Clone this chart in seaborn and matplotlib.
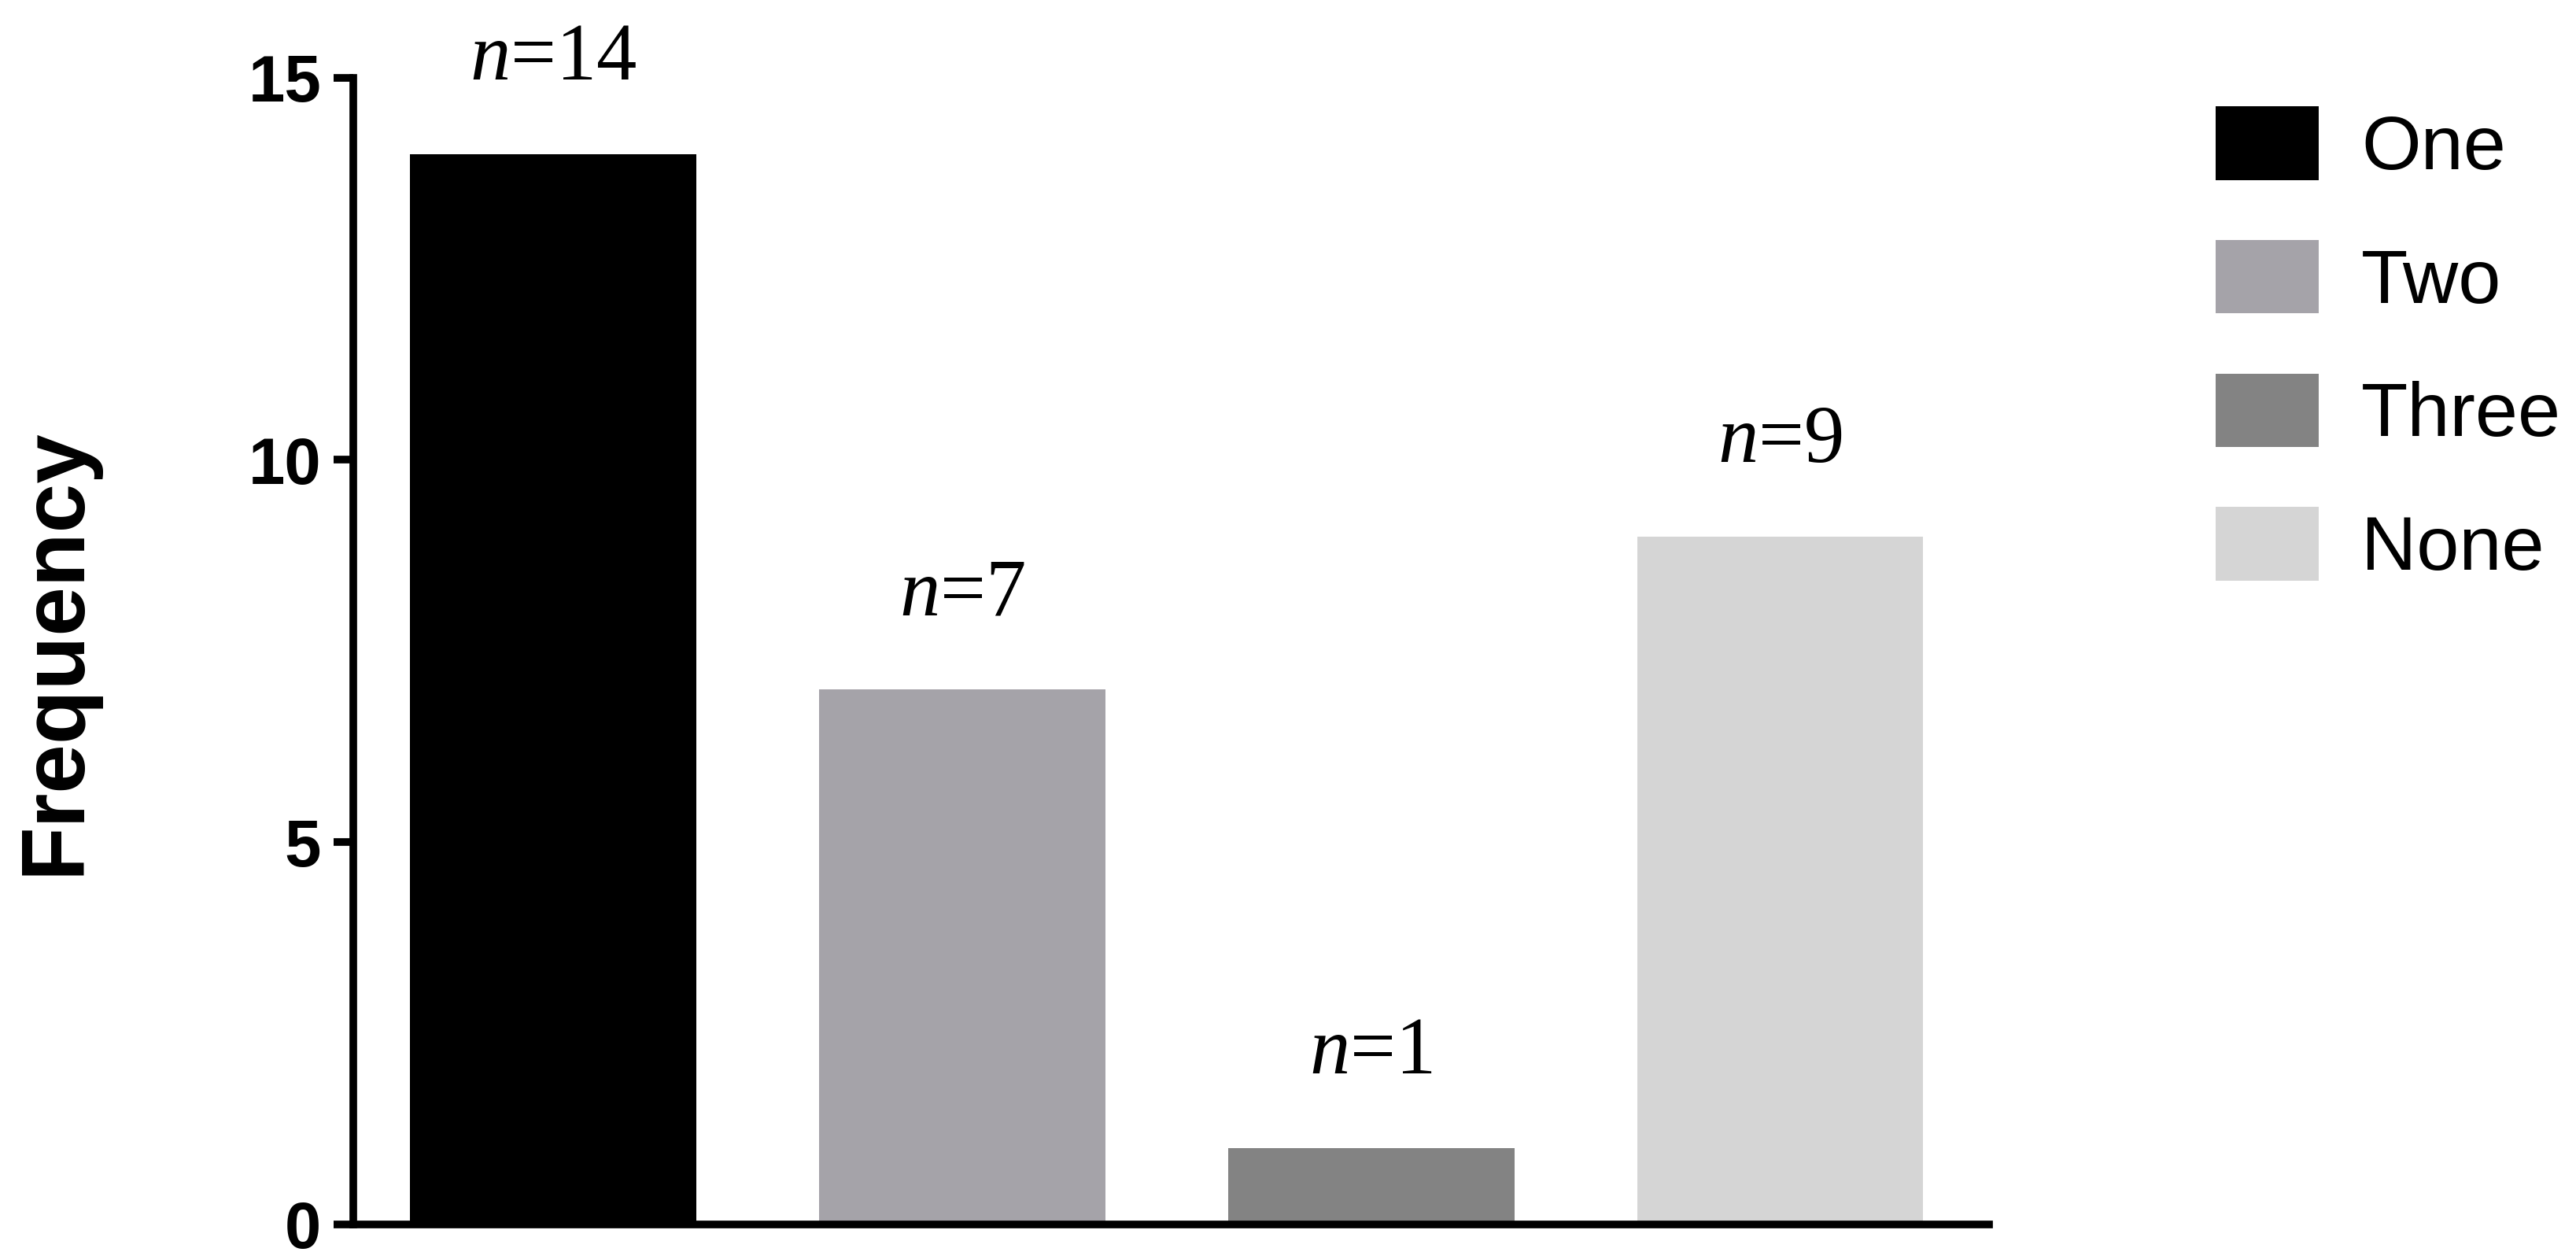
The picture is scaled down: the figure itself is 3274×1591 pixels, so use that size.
import matplotlib
matplotlib.use("Agg")
import matplotlib.pyplot as plt
import seaborn as sns
import pandas as pd

# chart data
categories = ["One", "Two", "Three", "None"]
counts = [14, 7, 1, 9]
bar_colors = ["#000000", "#a5a3a9", "#838383", "#d5d5d5"]
y_ticks = [0, 5, 10, 15]

sns.set_style("ticks")
plt.rcParams["font.family"] = ["Liberation Sans", "DejaVu Sans"]
plt.rcParams["text.color"] = "black"
plt.rcParams["axes.labelcolor"] = "black"
plt.rcParams["axes.edgecolor"] = "black"
plt.rcParams["ytick.color"] = "black"
plt.rcParams["mathtext.fontset"] = "custom"
plt.rcParams["mathtext.it"] = "Liberation Serif:italic"
plt.rcParams["mathtext.rm"] = "Liberation Serif"

df = pd.DataFrame({"group": categories, "count": counts})

fig = plt.figure(figsize=(32.74, 15.91), dpi=100)
ax = fig.add_axes([0.137, 0.022, 0.635, 0.916])

sns.barplot(data=df, x="group", y="count", hue="group", palette=bar_colors,
            width=0.7, saturation=1, linewidth=0, legend=False, ax=ax)

ax.set_xlim(-0.49, 3.51)
ax.set_ylim(0, 15)
ax.set_yticks(y_ticks)
ax.set_xticks([])
ax.set_xlabel("")

# tick and spine styling
for side in ["top", "right"]:
    ax.spines[side].set_visible(False)
for side in ["left", "bottom"]:
    ax.spines[side].set_linewidth(7)
ax.tick_params(axis="y", length=18, width=7, pad=11, labelsize=60, colors="black")
for lab in ax.get_yticklabels():
    lab.set_fontweight("bold")

ax.set_ylabel("Frequency", fontsize=81, fontweight="bold")
ax.yaxis.set_label_coords(-0.156, 0.5)

# n= labels over bars
for i, v in enumerate(counts):
    ax.annotate(f"$n$={v}", xy=(i, v), xytext=(0, 68), textcoords="offset points",
                ha="center", va="baseline", fontsize=74, family="Liberation Serif")

# legend from the drawn bars
handles = [c.patches[0] for c in ax.containers]
fig.legend(handles, categories, loc="upper left", bbox_to_anchor=(0.86, 0.915),
           frameon=False, fontsize=70, handlelength=1.35, handleheight=1.1,
           handletextpad=0.56, labelspacing=0.72, borderpad=0, borderaxespad=0)

fig.savefig("out.png", dpi=100)
